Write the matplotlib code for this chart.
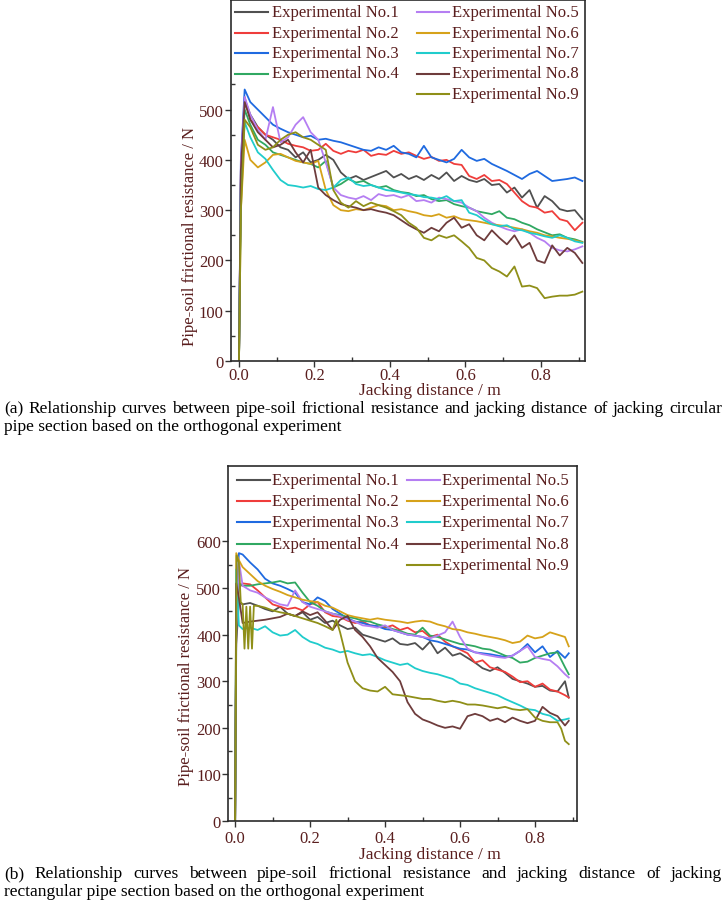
import numpy as np
import matplotlib
matplotlib.use('Agg')
import matplotlib.pyplot as plt
from matplotlib.lines import Line2D

plt.rcParams['font.family'] = ['Liberation Serif', 'DejaVu Serif']

# ---- data ----
names = ['Experimental No.%d' % i for i in range(1, 10)]
colors = ['#505050', '#ef3d3b', '#1f6ae0', '#30a862', '#b57ef2',
          '#d6a21a', '#20cccc', '#6e3c3c', '#8f8f18']

# (a) circular pipe section
x_a = [0.0, 0.005, 0.015, 0.03, 0.05, 0.07, 0.09, 0.11, 0.13, 0.15, 0.17, 0.19,
       0.21, 0.23, 0.25, 0.27, 0.29, 0.31, 0.33, 0.35, 0.37, 0.39, 0.41, 0.43,
       0.45, 0.47, 0.49, 0.51, 0.53, 0.55, 0.57, 0.59, 0.61, 0.63, 0.65, 0.67,
       0.69, 0.71, 0.73, 0.75, 0.77, 0.79, 0.81, 0.83, 0.85, 0.87, 0.89, 0.91]
a1 = [0, 380, 520, 490, 465, 450, 440, 425, 420, 405, 415, 395, 400, 410, 400, 375,
      362, 368, 360, 366, 372, 378, 365, 372, 362, 368, 360, 370, 362, 375, 358, 368,
      360, 356, 362, 350, 352, 335, 345, 325, 340, 305, 328, 318, 302, 298, 300, 282]
a2 = [0, 380, 525, 480, 465, 450, 445, 440, 432, 428, 425, 418, 420, 432, 418, 412,
      418, 415, 420, 408, 412, 410, 418, 412, 415, 408, 402, 406, 398, 400, 392, 390,
      368, 362, 370, 358, 360, 352, 335, 318, 308, 305, 295, 298, 282, 278, 260, 275]
a3 = [0, 400, 540, 515, 500, 485, 470, 462, 455, 450, 445, 448, 440, 442, 438, 435,
      430, 425, 420, 418, 425, 420, 428, 415, 412, 405, 428, 405, 400, 395, 402, 420,
      405, 398, 402, 392, 385, 378, 370, 362, 372, 378, 368, 358, 360, 362, 365, 358]
a4 = [0, 360, 500, 470, 440, 430, 415, 410, 405, 400, 395, 392, 385, 398, 345, 352,
      362, 355, 358, 350, 345, 348, 340, 336, 334, 328, 330, 322, 318, 320, 312, 308,
      305, 298, 295, 292, 298, 285, 282, 275, 270, 262, 256, 250, 252, 245, 242, 237]
a5 = [0, 400, 525, 490, 460, 440, 505, 435, 445, 470, 485, 455, 440, 395, 345, 330,
      325, 322, 328, 320, 332, 328, 330, 325, 330, 318, 320, 315, 325, 322, 318, 315,
      305, 298, 285, 275, 268, 262, 258, 262, 255, 245, 238, 225, 220, 218, 222, 228]
a6 = [0, 300, 440, 400, 385, 395, 410, 412, 405, 398, 395, 392, 398, 340, 310, 300,
      298, 302, 300, 305, 310, 308, 300, 302, 298, 295, 290, 288, 292, 285, 288, 282,
      280, 278, 275, 272, 270, 268, 265, 262, 258, 255, 250, 248, 245, 243, 240, 236]
a7 = [0, 350, 475, 445, 415, 402, 380, 360, 350, 348, 345, 348, 342, 340, 345, 360,
      365, 352, 348, 350, 345, 340, 338, 335, 332, 330, 326, 325, 322, 328, 318, 320,
      295, 290, 280, 272, 268, 270, 262, 260, 255, 252, 248, 245, 250, 245, 238, 235]
a8 = [0, 380, 515, 480, 455, 440, 425, 430, 440, 415, 395, 420, 345, 330, 320, 312,
      308, 305, 300, 302, 298, 295, 290, 280, 270, 262, 255, 265, 258, 275, 285, 265,
      272, 250, 240, 260, 245, 232, 250, 225, 235, 200, 195, 230, 210, 225, 215, 195]
a9 = [0, 300, 480, 465, 430, 420, 425, 440, 450, 455, 445, 440, 430, 420, 340, 315,
      305, 318, 308, 315, 310, 305, 298, 290, 275, 265, 245, 240, 250, 245, 250, 238,
      225, 205, 200, 185, 178, 168, 188, 148, 150, 145, 125, 128, 130, 130, 132, 138]

# (b) rectangular pipe section
x_b = [0.0, 0.003, 0.01, 0.02, 0.04, 0.06, 0.08, 0.10, 0.12, 0.14, 0.16, 0.18,
       0.20, 0.22, 0.24, 0.26, 0.28, 0.30, 0.32, 0.34, 0.36, 0.38, 0.40, 0.42,
       0.44, 0.46, 0.48, 0.50, 0.52, 0.54, 0.56, 0.58, 0.60, 0.62, 0.64, 0.66,
       0.68, 0.70, 0.72, 0.74, 0.76, 0.78, 0.80, 0.82, 0.84, 0.86, 0.88, 0.89]
b1 = [0, 380, 470, 465, 468, 462, 455, 450, 460, 445, 440, 448, 432, 438, 425, 430,
      420, 412, 415, 400, 395, 390, 385, 392, 380, 378, 382, 368, 385, 360, 372, 355,
      360, 350, 340, 328, 322, 330, 318, 305, 300, 295, 288, 290, 280, 278, 300, 265]
b2 = [0, 420, 500, 510, 508, 495, 480, 465, 460, 455, 458, 452, 465, 470, 448, 440,
      438, 430, 425, 428, 420, 418, 415, 420, 410, 415, 405, 408, 395, 400, 385, 375,
      368, 360, 340, 345, 330, 325, 320, 310, 298, 300, 288, 295, 282, 278, 270, 265]
b3 = [0, 450, 575, 572, 555, 540, 520, 510, 505, 498, 490, 470, 465, 480, 472, 455,
      445, 435, 428, 425, 420, 418, 412, 410, 405, 400, 398, 395, 388, 385, 380, 375,
      370, 368, 362, 360, 358, 355, 352, 355, 365, 380, 362, 375, 352, 365, 350, 360]
b4 = [0, 420, 510, 505, 505, 508, 510, 512, 515, 510, 512, 490, 470, 462, 450, 445,
      442, 438, 435, 430, 428, 422, 418, 412, 408, 402, 400, 415, 398, 395, 390, 385,
      380, 378, 375, 370, 368, 362, 355, 350, 340, 342, 350, 355, 360, 362, 330, 315]
b5 = [0, 420, 560, 505, 495, 490, 480, 472, 465, 462, 495, 470, 460, 455, 450, 445,
      440, 432, 428, 420, 418, 415, 420, 410, 405, 400, 398, 395, 392, 398, 405, 428,
      395, 370, 362, 358, 355, 352, 350, 355, 365, 375, 352, 348, 345, 332, 315, 308]
b6 = [0, 575, 560, 545, 530, 515, 505, 498, 492, 485, 480, 475, 472, 470, 462, 458,
      450, 442, 438, 435, 432, 435, 432, 430, 428, 425, 428, 430, 428, 422, 418, 412,
      410, 405, 402, 398, 395, 392, 388, 382, 385, 398, 392, 395, 405, 400, 395, 375]
b7 = [0, 540, 420, 412, 415, 410, 418, 405, 398, 400, 410, 395, 385, 380, 372, 368,
      362, 365, 360, 356, 358, 352, 345, 340, 335, 338, 328, 322, 318, 315, 310, 305,
      295, 292, 285, 280, 275, 270, 262, 255, 248, 240, 238, 230, 226, 215, 218, 220]
b8 = [0, 510, 480, 425, 428, 430, 432, 435, 438, 445, 440, 450, 442, 448, 430, 410,
      432, 440, 410, 395, 375, 350, 335, 320, 300, 255, 230, 218, 212, 205, 200, 203,
      198, 225, 230, 225, 215, 220, 212, 222, 215, 210, 215, 245, 232, 225, 205, 215]
x_b9 = [0.0, 0.004, 0.01, 0.015, 0.02, 0.025, 0.03, 0.035, 0.04, 0.045, 0.05,
        0.06, 0.08, 0.10, 0.12, 0.14, 0.16, 0.18, 0.20, 0.22, 0.24, 0.26, 0.27, 0.28,
        0.30, 0.32, 0.34, 0.36, 0.38, 0.40, 0.42, 0.44, 0.46, 0.48, 0.50, 0.52, 0.54,
        0.56, 0.58, 0.60, 0.62, 0.64, 0.66, 0.68, 0.70, 0.72, 0.74, 0.76, 0.78, 0.80,
        0.82, 0.84, 0.86, 0.87, 0.88, 0.89]
b9 = [0, 570, 555, 470, 465, 370, 460, 370, 460, 370, 462,
      462, 458, 452, 448, 445, 440, 435, 430, 425, 418, 410, 432, 405,
      340, 300, 285, 280, 278, 288, 272, 270, 268, 265, 262, 262, 258,
      255, 258, 255, 250, 250, 248, 245, 242, 245, 240, 238, 240, 222,
      215, 212, 212, 198, 172, 165]

series_a = [(x_a, a1), (x_a, a2), (x_a, a3), (x_a, a4), (x_a, a5),
            (x_a, a6), (x_a, a7), (x_a, a8), (x_a, a9)]
series_b = [(x_b, b1), (x_b, b2), (x_b, b3), (x_b, b4), (x_b, b5),
            (x_b, b6), (x_b, b7), (x_b, b8), (x_b9, b9)]

cap_a = ["(a) Relationship curves between pipe-soil frictional resistance and jacking distance of jacking circular",
         "pipe section based on the orthogonal experiment"]
cap_b = ["(b) Relationship curves between pipe-soil frictional resistance and jacking distance of jacking",
         "rectangular pipe section based on the orthogonal experiment"]

TXT = '#5a1e1e'
W, H = 726, 903
fig = plt.figure(figsize=(W / 100, H / 100), dpi=100)


def fx(px):
    return px / W


def fy(py):
    return 1 - py / H


def make_axes(l, t, r, b):
    return fig.add_axes([fx(l), fy(b), (r - l) / W, (b - t) / H])


def draw_panel(ax, series, xlim, ylim, ytop, ylab_xy, xlab_xy, xpad):
    for (xs, ys), c in zip(series, colors):
        ax.plot(xs, ys, color=c, lw=1.3)
    ax.set_xlim(*xlim)
    ax.set_ylim(*ylim)
    ax.set_xticks([0.0, 0.2, 0.4, 0.6, 0.8])
    ax.set_xticklabels(['0.0', '0.2', '0.4', '0.6', '0.8'])
    ax.set_xticks([0.1, 0.3, 0.5, 0.7, 0.9], minor=True)
    ax.set_yticks(range(0, ytop + 1, 100))
    ax.set_yticks(range(50, 600, 100), minor=True)
    ax.tick_params(which='major', direction='out', length=4, width=1,
                   color='#333333', labelcolor=TXT, labelsize=12)
    ax.tick_params(axis='x', which='major', pad=xpad)
    ax.tick_params(axis='y', which='major', pad=1)
    ax.tick_params(which='minor', direction='in', length=3, width=1, color='#333333')
    for s in ax.spines.values():
        s.set_linewidth(1.2)
        s.set_color('#2a2a2a')
    ax.set_xlabel('Jacking distance / m', color=TXT, fontsize=12.5)
    ax.xaxis.label.set_va('center')
    ax.xaxis.set_label_coords(*xlab_xy)
    ax.set_ylabel('Pipe-soil frictional resistance / N', color=TXT, fontsize=12)
    ax.yaxis.label.set_va('center')
    ax.yaxis.set_label_coords(*ylab_xy)


def legend(y0, pitch, cols):
    groups = [range(0, 4), range(4, 9)]
    for (h0, h1, t0), idx in zip(cols, groups):
        for r, i in enumerate(idx):
            y = y0 + pitch * r
            fig.add_artist(Line2D([fx(h0), fx(h1)], [fy(y), fy(y)], color=colors[i],
                                  lw=1.5, transform=fig.transFigure))
            fig.text(fx(t0), fy(y), names[i], fontsize=12, color=TXT,
                     va='center', ha='left')


def text_width(s, size, r):
    t = fig.text(0, 0, s, fontsize=size)
    w = t.get_window_extent(r).width
    t.remove()
    return w


def caption(lines, y1, size, x0=4, x1=722):
    # first line justified to the full width, second line left aligned
    r = fig.canvas.get_renderer()
    words = lines[0].split()
    widths = [text_width(w, size, r) for w in words]
    gap = (x1 - x0 - sum(widths)) / (len(words) - 1)
    x = x0
    for w, wd in zip(words, widths):
        fig.text(fx(x), fy(y1), w, fontsize=size, va='center', color='black')
        x += wd + gap
    fig.text(fx(x0), fy(y1 + 18), lines[1], fontsize=size, va='center', color='black')


ax1 = make_axes(230.7, 1, 585, 362)
draw_panel(ax1, series_a, (-0.022, 0.917), (0, 718), 500,
           (-0.115, 0.348), ((430 - 230.7) / 354.3, (362 - 391) / 361), 0.5)
legend(13, 20.5, [(235, 268, 272), (417, 449, 452)])

ax2 = make_axes(228, 467, 577, 822)
draw_panel(ax2, series_b, (-0.019, 0.912), (0, 762), 600,
           (-0.12, 0.41), ((430 - 228) / 349, (822 - 855) / 355), 2.5)
legend(481, 21.2, [(237, 270, 272), (407, 440, 442)])

# caption size: as large as fits the full first line of (a) with normal word spacing
rend = fig.canvas.get_renderer()
cap_size = 10 * 364 / text_width(cap_a[1], 10, rend)
w_line = sum(text_width(w, cap_size, rend) for w in cap_a[0].split())
natural = w_line + 14 * 0.25 * cap_size * 100 / 72
if natural > 718:
    cap_size *= 718 / natural
caption(cap_a, 409, cap_size)
caption(cap_b, 874, cap_size)

fig.savefig('out.png', dpi=100)
